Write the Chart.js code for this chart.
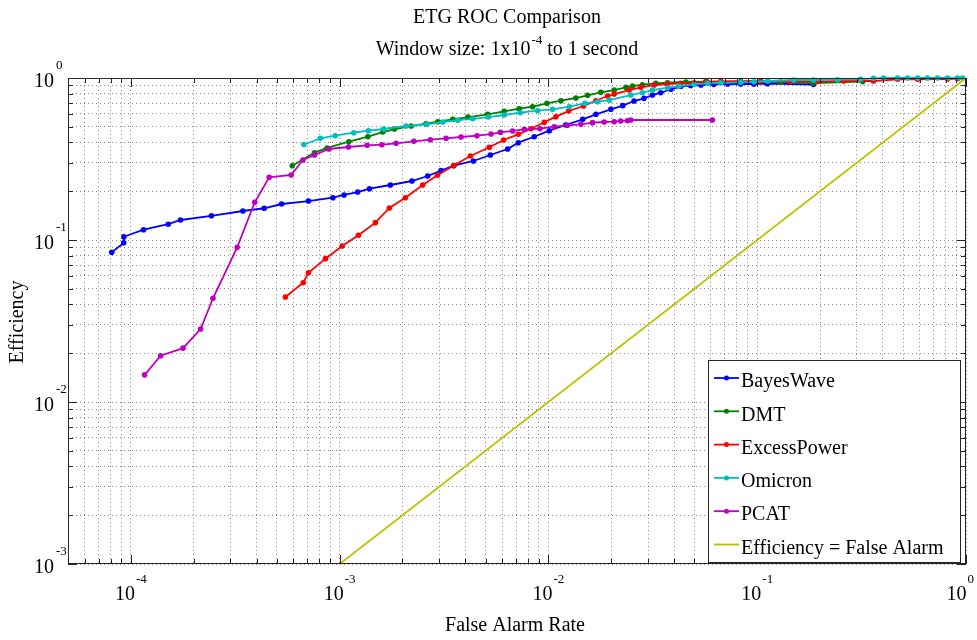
<!DOCTYPE html>
<html>
<head>
<meta charset="utf-8">
<script src="https://cdn.jsdelivr.net/npm/chart.js@4.4.1/dist/chart.umd.min.js"></script>
<style>
html, body { margin: 0; padding: 0; background: #ffffff; }
#wrap { width: 977px; height: 640px; position: relative; }
</style>
</head>
<body>
<div id="wrap"><canvas id="c" width="977" height="640"></canvas></div>
<script>
// ---------- text ----------
const chartTitle = 'ETG ROC Comparison';
const subtitleParts = ['Window size: 1x10', '-4', ' to 1 second'];
const xAxisTitle = 'False Alarm Rate';
const yAxisTitle = 'Efficiency';

// ---------- series ----------
const seriesNames = ['BayesWave', 'DMT', 'ExcessPower', 'Omicron', 'PCAT', 'Efficiency = False Alarm'];
const seriesColors = ['#0000ff', '#008000', '#ff0000', '#00bfbf', '#bf00bf', '#bfbf00'];

const bayesWaveFar = [8.1e-5, 9.24e-5, 9.26e-5, 1.15e-4, 1.51e-4, 1.73e-4, 2.43e-4, 3.44e-4, 4.35e-4, 5.27e-4, 7.09e-4, 9.28e-4, 1.05e-3, 1.22e-3, 1.39e-3, 1.75e-3, 2.22e-3, 2.64e-3, 3.06e-3, 3.52e-3, 4.37e-3, 5.27e-3, 6.38e-3, 7.17e-3, 8.55e-3, 1.01e-2, 1.21e-2, 1.46e-2, 1.69e-2, 1.99e-2, 2.27e-2, 2.57e-2, 2.87e-2, 3.15e-2, 3.45e-2, 3.86e-2, 4.3e-2, 4.8e-2, 5.37e-2, 6.19e-2, 7.23e-2, 8.34e-2, 9.62e-2, 0.112, 0.186];
const bayesWaveEff = [0.0839, 0.0961, 0.1047, 0.1158, 0.1252, 0.1329, 0.1411, 0.151, 0.157, 0.1668, 0.174, 0.1824, 0.1896, 0.1978, 0.2074, 0.2185, 0.2313, 0.2483, 0.2679, 0.2874, 0.3074, 0.3347, 0.3645, 0.3988, 0.434, 0.4729, 0.5128, 0.556, 0.597, 0.641, 0.675, 0.721, 0.749, 0.785, 0.811, 0.852, 0.886, 0.899, 0.905, 0.914, 0.918, 0.918, 0.918, 0.922, 0.912];

const dmtFar = [5.93e-4, 7.58e-4, 8.71e-4, 1.107e-3, 1.365e-3, 1.61e-3, 1.83e-3, 2.2e-3, 2.59e-3, 2.95e-3, 3.48e-3, 4.12e-3, 5.12e-3, 6.14e-3, 7.25e-3, 8.4e-3, 9.84e-3, 1.148e-2, 1.354e-2, 1.54e-2, 1.78e-2, 2.065e-2, 2.35e-2, 2.53e-2, 2.82e-2, 3.27e-2, 3.72e-2, 4.55e-2, 5.67e-2, 8.34e-2, 0.1295, 0.186, 0.32];
const dmtEff = [0.2874, 0.3459, 0.37, 0.4045, 0.434, 0.464, 0.4843, 0.5054, 0.5224, 0.5373, 0.556, 0.5742, 0.597, 0.623, 0.6465, 0.665, 0.698, 0.724, 0.7525, 0.782, 0.816, 0.843, 0.876, 0.892, 0.909, 0.927, 0.935, 0.945, 0.951, 0.951, 0.945, 0.93, 0.95];

const excessPowerFar = [5.5e-4, 6.69e-4, 7.09e-4, 8.55e-4, 1.028e-3, 1.23e-3, 1.483e-3, 1.73e-3, 2.065e-3, 2.5e-3, 2.94e-3, 3.52e-3, 4.23e-3, 5.21e-3, 6.1e-3, 7.17e-3, 8.25e-3, 9.55e-3, 1.086e-2, 1.25e-2, 1.473e-2, 1.687e-2, 1.92e-2, 2.065e-2, 2.435e-2, 2.77e-2, 3.21e-2, 3.72e-2, 4.3e-2, 4.99e-2, 5.78e-2, 6.69e-2, 0.104, 0.1445, 0.1948, 0.2594, 0.3606, 0.47, 0.586, 0.815, 0.91];
const excessPowerEff = [0.0445, 0.0545, 0.0628, 0.0767, 0.0918, 0.107, 0.128, 0.1576, 0.1824, 0.2185, 0.2508, 0.2884, 0.33, 0.3735, 0.4143, 0.449, 0.4864, 0.5327, 0.577, 0.6257, 0.6718, 0.724, 0.774, 0.796, 0.843, 0.876, 0.905, 0.918, 0.927, 0.935, 0.945, 0.954, 0.958, 0.951, 0.951, 0.958, 0.958, 0.982, 0.982, 0.986, 0.99];

const omicronFar = [6.74e-4, 8.09e-4, 9.52e-4, 1.169e-3, 1.373e-3, 1.627e-3, 2.08e-3, 2.62e-3, 3.12e-3, 3.68e-3, 4.34e-3, 5.16e-3, 6.14e-3, 7.33e-3, 8.88e-3, 1.047e-2, 1.258e-2, 1.495e-2, 1.72e-2, 1.954e-2, 2.48e-2, 2.82e-2, 3.15e-2, 3.72e-2, 4.23e-2, 4.99e-2, 5.78e-2, 6.69e-2, 8.34e-2, 9.66e-2, 0.1122, 0.1495, 0.1862, 0.2427, 0.3126, 0.3606, 0.403, 0.47, 0.525, 0.586, 0.654, 0.731, 0.815, 0.91, 0.962];
const omicronEff = [0.3886, 0.4243, 0.4405, 0.4595, 0.4729, 0.4843, 0.5054, 0.5178, 0.535, 0.549, 0.56, 0.5742, 0.591, 0.6106, 0.6282, 0.641, 0.665, 0.698, 0.714, 0.7313, 0.785, 0.811, 0.843, 0.871, 0.892, 0.914, 0.927, 0.935, 0.941, 0.949, 0.958, 0.972, 0.972, 0.976, 0.982, 0.996, 1.0, 1.0, 1.0, 1.0, 1.0, 1.0, 1.0, 1.0, 1.0];

const pcatFar = [1.164e-4, 1.389e-4, 1.778e-4, 2.158e-4, 2.474e-4, 3.23e-4, 3.92e-4, 4.6e-4, 5.86e-4, 6.67e-4, 7.58e-4, 8.89e-4, 1.102e-3, 1.354e-3, 1.592e-3, 1.863e-3, 2.265e-3, 2.72e-3, 3.233e-3, 3.813e-3, 4.55e-3, 5.31e-3, 5.88e-3, 6.74e-3, 7.66e-3, 9.1e-3, 1.066e-2, 1.236e-2, 1.43e-2, 1.627e-2, 1.85e-2, 2.065e-2, 2.22e-2, 2.39e-2, 2.48e-2, 6.1e-2];
const pcatEff = [0.0147, 0.0193, 0.0215, 0.0282, 0.0437, 0.0901, 0.1709, 0.2438, 0.252, 0.3118, 0.3347, 0.3645, 0.375, 0.3842, 0.3875, 0.3953, 0.4067, 0.416, 0.4245, 0.4322, 0.4405, 0.451, 0.4623, 0.471, 0.4824, 0.4864, 0.5004, 0.5105, 0.5178, 0.53, 0.535, 0.5373, 0.5428, 0.545, 0.5505, 0.5505];

const equalityFar = [1e-3, 1];
const equalityEff = [1e-3, 1];

// ---------- axes ----------
const xMin = 5e-5, xMax = 1;
const yMin = 1e-3, yMax = 1;
const xDecades = [-5, -4, -3, -2, -1];
const yDecades = [-3, -2, -1];
const tickMultipliers = [1, 2, 3, 4, 5, 6, 7, 8, 9];
const xLabelExponents = ['-4', '-3', '-2', '-1', '0'];
const yLabelExponents = ['-3', '-2', '-1', '0'];

function buildTicks(decades, lo, hi) {
  const out = [];
  decades.forEach(d => tickMultipliers.forEach(m => {
    const v = m * Math.pow(10, d);
    if (v >= lo * 0.999999 && v <= hi * 1.000001) out.push(v);
  }));
  out.push(hi);
  return out;
}
const xTickValues = buildTicks(xDecades, xMin, xMax);
const yTickValues = buildTicks(yDecades, yMin, yMax);

function pts(xs, ys) { return xs.map((x, i) => ({ x: x, y: ys[i] })); }
const seriesData = [
  pts(bayesWaveFar, bayesWaveEff),
  pts(dmtFar, dmtEff),
  pts(excessPowerFar, excessPowerEff),
  pts(omicronFar, omicronEff),
  pts(pcatFar, pcatEff),
  pts(equalityFar, equalityEff)
];

const SERIF = '"Liberation Serif", "Times New Roman", serif';

const datasets = seriesData.map((d, i) => ({
  label: seriesNames[i],
  data: d,
  borderColor: seriesColors[i],
  backgroundColor: seriesColors[i],
  borderWidth: i === 5 ? 1.6 : 1.8,
  pointRadius: i === 5 ? 0 : 2.8,
  pointBorderWidth: 0,
  pointBackgroundColor: seriesColors[i],
  pointHoverRadius: 0,
  tension: 0,
  clip: false,
  order: 10 - i
}));

function isPow10(v) {
  const l = Math.log10(v);
  return Math.abs(l - Math.round(l)) < 1e-9;
}

const matlabAxes = {
  id: 'matlabAxes',
  afterDraw(chart) {
    const ctx = chart.ctx;
    const ca = chart.chartArea;
    const xs = chart.scales.x, ys = chart.scales.y;
    ctx.save();

    // tick marks (inside, all four sides)
    ctx.strokeStyle = '#262626';
    ctx.lineWidth = 1;
    ctx.beginPath();
    xs.ticks.forEach(t => {
      const p = Math.round(xs.getPixelForValue(t.value)) + 0.5;
      const len = isPow10(t.value) ? 9 : 5;
      ctx.moveTo(p, ca.bottom); ctx.lineTo(p, ca.bottom - len);
      ctx.moveTo(p, ca.top); ctx.lineTo(p, ca.top + len);
    });
    ys.ticks.forEach(t => {
      const p = Math.round(ys.getPixelForValue(t.value)) + 0.5;
      const len = isPow10(t.value) ? 9 : 5;
      ctx.moveTo(ca.left, p); ctx.lineTo(ca.left + len, p);
      ctx.moveTo(ca.right, p); ctx.lineTo(ca.right - len, p);
    });
    ctx.stroke();

    // box
    ctx.strokeStyle = '#262626';
    ctx.strokeRect(Math.round(ca.left) + 0.5, Math.round(ca.top) + 0.5,
                   Math.round(ca.right - ca.left) - 1, Math.round(ca.bottom - ca.top) - 1);

    ctx.fillStyle = '#000000';
    ctx.textBaseline = 'middle';

    // x tick labels
    const baseFont = '20px ' + SERIF;
    const supFont = '13px ' + SERIF;
    xLabelExponents.forEach(e => {
      const v = Math.pow(10, Number(e));
      const px = xs.getPixelForValue(v);
      ctx.font = baseFont; const w1 = ctx.measureText('10').width;
      ctx.font = supFont; const w2 = ctx.measureText(e).width;
      let start = px - (w1 + 1 + w2) / 2;
      start = Math.min(start, chart.width - 3 - (w1 + 1 + w2));
      ctx.textAlign = 'left';
      ctx.font = baseFont; ctx.fillText('10', start, ca.bottom + 31);
      ctx.font = supFont; ctx.fillText(e, start + w1 + 1, ca.bottom + 16);
    });

    // y tick labels
    yLabelExponents.forEach(e => {
      const v = Math.pow(10, Number(e));
      const py = ys.getPixelForValue(v);
      ctx.textAlign = 'right';
      ctx.font = baseFont; ctx.fillText('10', ca.left - 14, py + 4);
      ctx.textAlign = 'left';
      ctx.font = supFont; ctx.fillText(e, ca.left - 12, py - 12);
    });

    // titles
    const cx = 507;
    ctx.font = '20px ' + SERIF;
    ctx.textAlign = 'center';
    ctx.fillText(chartTitle, cx, 18);

    ctx.font = baseFont; const a = ctx.measureText(subtitleParts[0]).width;
    ctx.font = supFont; const b = ctx.measureText(subtitleParts[1]).width;
    ctx.font = baseFont; const c = ctx.measureText(subtitleParts[2]).width;
    let sx = cx - (a + b + c + 1) / 2;
    ctx.textAlign = 'left';
    ctx.font = baseFont; ctx.fillText(subtitleParts[0], sx, 50);
    ctx.font = supFont; ctx.fillText(subtitleParts[1], sx + a + 1, 41);
    ctx.font = baseFont; ctx.fillText(subtitleParts[2], sx + a + b + 1, 50);

    // axis titles
    ctx.font = '20px ' + SERIF;
    ctx.textAlign = 'center';
    ctx.fillText(xAxisTitle, 515, 626);
    ctx.save();
    ctx.translate(18, 322);
    ctx.rotate(-Math.PI / 2);
    ctx.fillText(yAxisTitle, 0, 0);
    ctx.restore();

    // legend
    const lx = 708, ly = 360, lw = 252, lh = 202;
    ctx.fillStyle = '#ffffff';
    ctx.fillRect(lx, ly, lw, lh);
    ctx.strokeStyle = '#262626';
    ctx.lineWidth = 1;
    ctx.strokeRect(lx + 0.5, ly + 0.5, lw, lh);
    chart.data.datasets.forEach((ds, i) => {
      const yy = 378 + i * 33.3;
      ctx.strokeStyle = ds.borderColor;
      ctx.lineWidth = 1.8;
      ctx.beginPath(); ctx.moveTo(714, yy); ctx.lineTo(739, yy); ctx.stroke();
      if (ds.pointRadius > 0) {
        ctx.fillStyle = ds.borderColor;
        ctx.beginPath(); ctx.arc(726.5, yy, 2.5, 0, Math.PI * 2); ctx.fill();
      }
      ctx.fillStyle = '#000000';
      ctx.font = '20px ' + SERIF;
      ctx.textAlign = 'left';
      ctx.fillText(ds.label, 741, yy + 4);
    });

    ctx.restore();
  }
};

new Chart(document.getElementById('c'), {
  type: 'line',
  data: { datasets: datasets },
  options: {
    responsive: false,
    animation: false,
    devicePixelRatio: 1,
    layout: { padding: { left: 68, right: 11, top: 78, bottom: 76 } },
    plugins: { legend: { display: false }, title: { display: false }, tooltip: { enabled: false } },
    scales: {
      x: {
        type: 'logarithmic', min: xMin, max: xMax,
        afterBuildTicks: s => { s.ticks = xTickValues.map(v => ({ value: v })); },
        ticks: { display: false },
        grid: { color: 'rgba(60,60,60,0.6)', lineWidth: 1, drawTicks: false },
        border: { display: false, dash: [1, 3] }
      },
      y: {
        type: 'logarithmic', min: yMin, max: yMax,
        afterBuildTicks: s => { s.ticks = yTickValues.map(v => ({ value: v })); },
        ticks: { display: false },
        grid: { color: 'rgba(60,60,60,0.6)', lineWidth: 1, drawTicks: false },
        border: { display: false, dash: [1, 3] }
      }
    }
  },
  plugins: [matlabAxes]
});
</script>
</body>
</html>
